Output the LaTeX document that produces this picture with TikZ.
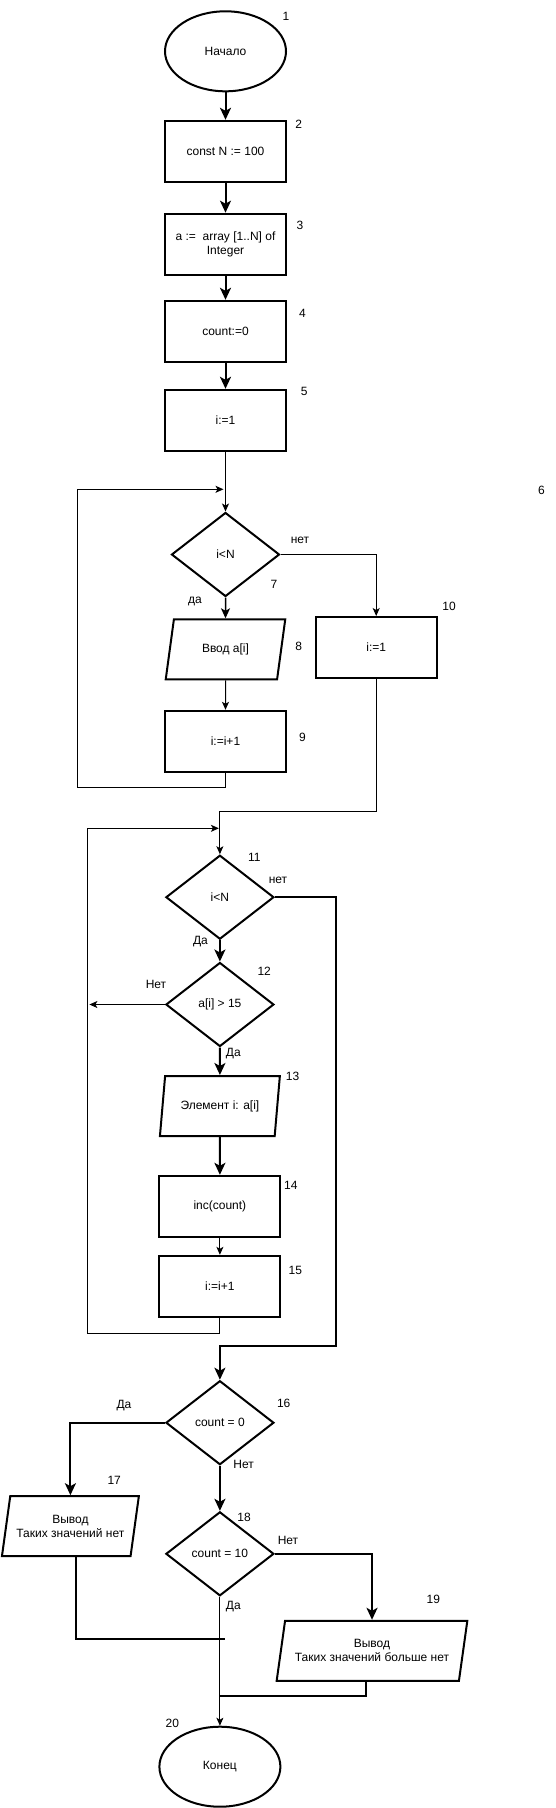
\documentclass[tikz,border=0pt]{standalone}
\usepackage{fontspec}
\setmainfont{Liberation Sans}
\usetikzlibrary{shapes.geometric,arrows.meta}
\begin{document}
\begin{tikzpicture}[x=1pt,y=-1pt,
  base/.style={draw, line width=2pt, font=\fontsize{12}{14}\selectfont, align=center, inner sep=0pt},
  proc/.style={base, rectangle, minimum width=121pt, minimum height=61pt},
  term/.style={base, ellipse, minimum width=121pt, minimum height=80pt},
  dec/.style={base, diamond, minimum width=108pt, minimum height=84pt},
  io/.style={base, trapezium, trapezium left angle=71.6, trapezium right angle=108.4, trapezium stretches=true, minimum height=60pt},
  lbl/.style={font=\fontsize{12}{14}\selectfont, inner sep=0pt},
  thk/.style={line width=2pt, -{Stealth[length=12pt,width=11pt,inset=3pt]}},
  mid/.style={line width=1.5pt, -{Stealth[length=10pt,width=9pt,inset=2.5pt]}},
  thn/.style={line width=1pt, -{Stealth[length=8pt,width=7pt,inset=2pt]}},
  thkline/.style={line width=2pt},
]
\useasboundingbox (0,0) rectangle (555,1808);

% shapes
\node[term] (n1) at (225.5,51.3) {Начало};
\node[proc] (n2) at (225.5,151.3) {const N := 100};
\node[proc] (n3) at (225.5,244.2) {a :=~~array [1..N] of\\Integer};
\node[proc] (n4) at (225.5,331.3) {count:=0};
\node[proc] (n5) at (225.5,420.3) {i:=1};
\node[dec] (d7) at (225.5,554.5) {i<N};
\node[io, minimum width=120pt] (p8) at (225.5,649.3) {Ввод a[i]};
\node[proc] (b9) at (225.5,741.3) {i:=i+1};
\node[proc] (b10) at (376.2,647.5) {i:=1};
\node[dec] (d11) at (219.9,897.2) {i<N};
\node[dec] (d12) at (219.9,1004.5) {a[i] > 15};
\node[io, minimum width=120pt] (p13) at (219.9,1106) {Элемент i: a[i]};
\node[proc] (b14) at (219.9,1206.3) {inc(count)};
\node[proc] (b15) at (219.9,1286.3) {i:=i+1};
\node[dec] (d16) at (219.9,1422.7) {count = 0};
\node[io, minimum width=137pt] (p17) at (70.4,1526.2) {Вывод\\Таких значений нет};
\node[dec] (d18) at (219.9,1553.8) {count = 10};
\node[io, minimum width=191pt] (p19) at (372,1650.8) {Вывод\\Таких значений больше нет};
\node[term] (n20) at (219.9,1766.7) {Конец};

% helper coordinates
\coordinate (l1) at (77.3,787);
\coordinate (j1) at (223.5,489.3);
\coordinate (k1) at (219.9,811);
\coordinate (l2) at (87.6,1333.3);
\coordinate (j2) at (218.9,828.3);
\coordinate (e12) at (89.4,1004.5);
\coordinate (r1) at (335.8,1346);
\coordinate (m17) at (225.2,1639.3);
\coordinate (m19) at (219.9,1696);

% connectors
\draw[thk] (n1) -- (n2);
\draw[thk] (n2) -- (n3);
\draw[thk] (n3) -- (n4);
\draw[thk] (n4) -- (n5);
\draw[thn] (n5) -- (d7);
\draw[mid] (d7) -- (p8);
\draw[thn] (d7.east) -| (b10.north);
\draw[thn] (p8) -- (b9);
\draw[thn] (b9.south) |- (l1) |- (j1);
\draw[thn] (b10.south) |- (k1) -- (d11.north);
\draw[thn] (b15.south) |- (l2) |- (j2);
\draw[thk] (d11) -- (d12);
\draw[thn] (d12.west) -- (e12);
\draw[thk] (d12) -- (p13);
\draw[thk] (p13) -- (b14);
\draw[thn] (b14) -- (b15);
\draw[thk] (d11.east) -| (r1) -| (d16.north);
\draw[thk] (d16.west) -| (p17.north);
\draw[thk] (d16) -- (d18);
\draw[thk] (d18.east) -| (p19.north);
\draw[thkline] ([xshift=6pt]p17.south) |- (m17);
\draw[thn] (d18) -- (n20);
\draw[thkline] ([xshift=-6pt]p19.south) |- (m19);

% labels
\node[lbl] (t1) at (286,16) {1};
\node[lbl] (t2) at (298.6,124) {2};
\node[lbl] (t3) at (300,225) {3};
\node[lbl] (t4) at (302.5,313) {4};
\node[lbl] (t5) at (304.3,391) {5};
\node[lbl] (t6) at (541.5,490.7) {6};
\node[lbl] (y7n) at (300,540.7) {нет};
\node[lbl] (t7) at (274,584.7) {7};
\node[lbl] (y7d) at (195,601) {да};
\node[lbl] (t8) at (298.6,646.7) {8};
\node[lbl] (t10) at (449,606.7) {10};
\node[lbl] (t9) at (302.5,737.3) {9};
\node[lbl] (t11) at (254.3,857.7) {11};
\node[lbl] (y11n) at (278,880) {нет};
\node[lbl] (y11d) at (200.4,942) {Да};
\node[lbl] (t12) at (264.2,971.7) {12};
\node[lbl] (y12n) at (156,984.3) {Нет};
\node[lbl] (y12d) at (233.3,1053.3) {Да};
\node[lbl] (t13) at (292.6,1076.7) {13};
\node[lbl] (t14) at (290.8,1185.7) {14};
\node[lbl] (t15) at (295.4,1270.7) {15};
\node[lbl] (t16) at (283.7,1403.3) {16};
\node[lbl] (y16d) at (124,1406) {Да};
\node[lbl] (y16n) at (243.6,1464.3) {Нет};
\node[lbl] (t17) at (114.2,1480) {17};
\node[lbl] (t18) at (244,1517.7) {18};
\node[lbl] (y18n) at (288,1540.7) {Нет};
\node[lbl] (t19) at (433.3,1599.3) {19};
\node[lbl] (y18d) at (233.3,1606.7) {Да};
\node[lbl] (t20) at (172.3,1723.3) {20};
\end{tikzpicture}
\end{document}
